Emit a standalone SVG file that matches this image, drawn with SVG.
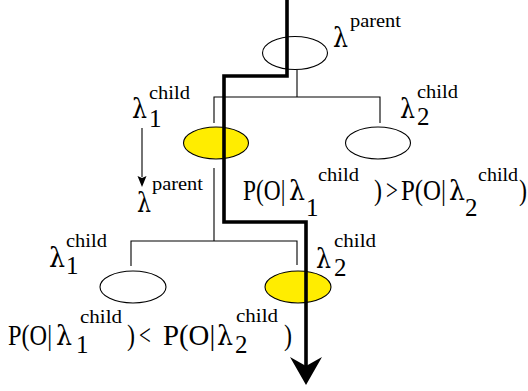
<svg xmlns="http://www.w3.org/2000/svg" width="528" height="391" viewBox="0 0 528 391">
<style>
.ell{stroke:#000;stroke-width:1.1;fill:#fff}
.sel{fill:#ffed00}
.thin{stroke:#000;stroke-width:1.1;fill:none}
.thick{stroke:#000;stroke-width:3.6;fill:none}
text{font-family:"Liberation Serif","Times New Roman",serif;fill:#000}
.lam{font-family:"DejaVu Serif","Liberation Serif",serif;font-size:28px}
.main{font-size:30px}
.sub{font-size:25px}
.sup{font-size:19px}
</style>
<defs>
<marker id="bighead" markerUnits="userSpaceOnUse" viewBox="-10 -17 30 34" refX="0" refY="0" markerWidth="30" markerHeight="34" orient="auto">
<path d="M19,0 L-9,-16 L0,0 L-9,16 Z" fill="#000"/>
</marker>
<marker id="smallhead" markerUnits="userSpaceOnUse" viewBox="-2 -6 14 12" refX="0" refY="0" markerWidth="14" markerHeight="12" orient="auto">
<path d="M10,0 L-1,-4.5 L1,0 L-1,4.5 Z" fill="#000"/>
</marker>
</defs>

<g id="connectors">
<path class="thin" d="M297,70 V97 M214,123 V97 H380 V123"/>
<path class="thin" d="M214,168 V241 M131,266 V241 H297 V265"/>
<path class="thin" d="M142,128 V177" marker-end="url(#smallhead)"/>
</g>

<g id="node-parent">
<ellipse class="ell" cx="295" cy="53" rx="32.5" ry="16.5"/>
<text class="lam" x="333" y="47" textLength="15" lengthAdjust="spacingAndGlyphs">λ</text>
<text class="sup" x="350" y="27" textLength="51" lengthAdjust="spacingAndGlyphs">parent</text>
</g>

<g id="node-child1">
<ellipse class="ell sel" cx="216" cy="143" rx="32.5" ry="16"/>
<text class="lam" x="132" y="118" textLength="15" lengthAdjust="spacingAndGlyphs">λ</text>
<text class="sub" x="149" y="127">1</text>
<text class="sup" x="149" y="99" textLength="41" lengthAdjust="spacingAndGlyphs">child</text>
<text class="lam" x="137" y="212" textLength="14" lengthAdjust="spacingAndGlyphs">λ</text>
<text class="sup" x="152" y="190" textLength="51" lengthAdjust="spacingAndGlyphs">parent</text>
</g>

<g id="node-child2">
<ellipse class="ell" cx="378" cy="143" rx="32.5" ry="16"/>
<text class="lam" x="400" y="118" textLength="15" lengthAdjust="spacingAndGlyphs">λ</text>
<text class="sub" x="417" y="125">2</text>
<text class="sup" x="417" y="98" textLength="41" lengthAdjust="spacingAndGlyphs">child</text>
</g>

<g id="node-gchild1">
<ellipse class="ell" cx="133" cy="287" rx="33" ry="16"/>
<text class="lam" x="49" y="267" textLength="16" lengthAdjust="spacingAndGlyphs">λ</text>
<text class="sub" x="66" y="274">1</text>
<text class="sup" x="66" y="247" textLength="41" lengthAdjust="spacingAndGlyphs">child</text>
</g>

<g id="node-gchild2">
<ellipse class="ell sel" cx="298" cy="287" rx="33" ry="16"/>
<text class="lam" x="316" y="268" textLength="15" lengthAdjust="spacingAndGlyphs">λ</text>
<text class="sub" x="334" y="276">2</text>
<text class="sup" x="334" y="247" textLength="42" lengthAdjust="spacingAndGlyphs">child</text>
</g>

<g id="path">
<path class="thick" d="M287,0 V76 H224 V222 H306 V366" marker-end="url(#bighead)"/>
</g>

<g id="cond-top">
<text class="main" transform="translate(243,200) scale(0.78,1)">P(O|</text>
<text class="lam" x="289" y="200" textLength="16" lengthAdjust="spacingAndGlyphs">λ</text>
<text class="sub" x="306" y="216">1</text>
<text class="sup" x="318" y="181" textLength="41" lengthAdjust="spacingAndGlyphs">child</text>
<text class="main" transform="translate(374,200) scale(0.8,1)">)</text>
<text class="main" transform="translate(386,200) scale(0.7,1)">&gt;</text>
<text class="main" transform="translate(401,200) scale(0.83,1)">P(O|</text>
<text class="lam" x="449" y="200" textLength="16" lengthAdjust="spacingAndGlyphs">λ</text>
<text class="sub" x="465" y="216">2</text>
<text class="sup" x="478" y="181" textLength="40" lengthAdjust="spacingAndGlyphs">child</text>
<text class="main" transform="translate(519,200) scale(0.8,1)">)</text>
</g>

<g id="cond-bottom">
<text class="main" transform="translate(8,345) scale(0.81,1)">P(O|</text>
<text class="lam" x="56" y="345" textLength="16" lengthAdjust="spacingAndGlyphs">λ</text>
<text class="sub" x="76" y="353">1</text>
<text class="sup" x="80" y="323" textLength="42" lengthAdjust="spacingAndGlyphs">child</text>
<text class="main" transform="translate(127,345) scale(0.8,1)">)</text>
<text class="main" transform="translate(139,345) scale(0.7,1)">&lt;</text>
<text class="main" transform="translate(163,345) scale(0.96,1)">P(O|</text>
<text class="lam" x="217" y="345" textLength="16" lengthAdjust="spacingAndGlyphs">λ</text>
<text class="sub" x="235" y="353">2</text>
<text class="sup" x="236" y="322" textLength="42" lengthAdjust="spacingAndGlyphs">child</text>
<text class="main" transform="translate(284,345) scale(0.8,1)">)</text>
</g>
</svg>
